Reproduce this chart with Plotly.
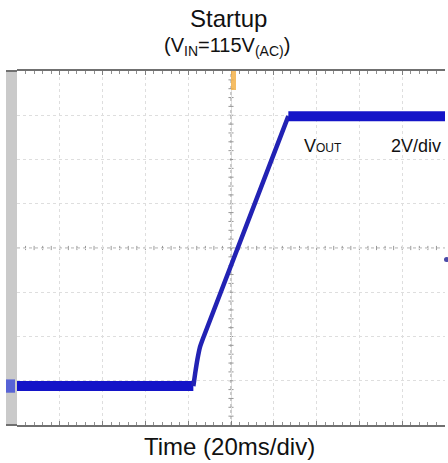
import plotly.graph_objects as go

# Data (time in ms, Vout in V)
time_ms = [0, 82.4, 83.3, 84.3, 85.5, 87.5, 126.8, 200]
vout_v = [0, 0, 0.6, 1.2, 1.76, 2.3, 12.2, 12.2]

x_range = [0, 200]        # 20 ms/div, 10 div
y_range = [-1.76, 14.24]  # 2 V/div, 8 div

W, H = 448, 463
ML, MR, MT, MB = 17, 3, 71, 38
PW = W - ML - MR
PH = H - MT - MB

def px(xp):
    return (xp - ML) / PW

def py(yp):
    return (H - MB - yp) / PH

FONT = "Arial, Liberation Sans, sans-serif"
FLAT = "#1414c8"
RAMP = "#2222b4"

fig = go.Figure()
# low flat
fig.add_trace(go.Scatter(x=time_ms[0:2], y=vout_v[0:2], mode="lines",
                         line=dict(color=FLAT, width=10), hoverinfo="skip"))
# ramp
fig.add_trace(go.Scatter(x=time_ms[1:7], y=vout_v[1:7], mode="lines",
                         line=dict(color=RAMP, width=4.5, shape="spline", smoothing=0.5),
                         hoverinfo="skip"))
# high flat
fig.add_trace(go.Scatter(x=time_ms[6:8], y=vout_v[6:8], mode="lines",
                         line=dict(color=FLAT, width=10), hoverinfo="skip"))

shapes = []
# gray strip on the left
shapes.append(dict(type="rect", xref="paper", yref="paper", x0=px(6), x1=0, y0=0, y1=1,
                   fillcolor="#cacaca", line=dict(width=0), layer="below"))
# extend borders over strip
for yv in (0, 1):
    shapes.append(dict(type="line", xref="paper", yref="paper", x0=px(6), x1=0, y0=yv, y1=yv,
                       line=dict(color="#707070", width=2)))
# center cross lines
shapes.append(dict(type="line", xref="x", yref="paper", x0=100, x1=100, y0=0, y1=1,
                   line=dict(color="#a8a8a8", width=1.2, dash="dot"), layer="below"))
shapes.append(dict(type="line", xref="paper", yref="paper", x0=0, x1=1, y0=0.5, y1=0.5,
                   line=dict(color="#a8a8a8", width=1.2, dash="dot"), layer="below"))
# minor ticks along center lines
for k in range(1, 50):
    xv = k * 4
    shapes.append(dict(type="line", xref="x", yref="paper", x0=xv, x1=xv, y0=0.5 - 0.006, y1=0.5 + 0.006,
                       line=dict(color="#989898", width=1), layer="below"))
for k in range(1, 40):
    yv = py(MT + k * PH / 40)
    shapes.append(dict(type="line", xref="paper", yref="paper", x0=0.5 - 0.006, x1=0.5 + 0.006,
                       y0=yv, y1=yv, line=dict(color="#989898", width=1), layer="below"))
# channel marker (left)
shapes.append(dict(type="rect", xref="paper", yref="y", x0=px(6), x1=px(15), y0=-0.3, y1=0.3,
                   fillcolor="#3a48d8", line=dict(width=0), opacity=0.8))
# trigger marker (top)
shapes.append(dict(type="rect", xref="paper", yref="paper", x0=px(231), x1=px(236), y0=py(90), y1=1,
                   fillcolor="#f3b24a", line=dict(width=0), opacity=0.85))
# right marker dot
shapes.append(dict(type="circle", xref="paper", yref="paper", x0=px(444), x1=px(449),
                   y0=py(262), y1=py(257), fillcolor="#4a4aa8", line=dict(width=0)))

annotations = [
    dict(text="Startup", xref="paper", yref="paper", x=px(228), y=py(18), showarrow=False,
         xanchor="center", yanchor="middle", font=dict(family=FONT, size=24, color="#111111")),
    dict(text="(V<sub>IN</sub>=115V<sub>(AC)</sub>)", xref="paper", yref="paper", x=px(227), y=py(47),
         showarrow=False, xanchor="center", yanchor="middle",
         font=dict(family=FONT, size=20, color="#111111")),
    dict(text="V<span style='font-size:12px'>OUT</span>", xref="paper", yref="paper", x=px(302), y=py(146),
         showarrow=False, xanchor="left", yanchor="middle",
         font=dict(family=FONT, size=18, color="#111111")),
    dict(text="2V/div", xref="paper", yref="paper", x=px(389), y=py(146),
         showarrow=False, xanchor="left", yanchor="middle",
         font=dict(family=FONT, size=18, color="#111111")),
    dict(text="Time (20ms/div)", xref="paper", yref="paper", x=px(229), y=py(446),
         showarrow=False, xanchor="center", yanchor="middle",
         font=dict(family=FONT, size=24, color="#111111")),
]

fig.update_layout(
    width=W, height=H,
    margin=dict(l=ML, r=MR, t=MT, b=MB),
    paper_bgcolor="white", plot_bgcolor="white",
    showlegend=False,
    shapes=shapes, annotations=annotations,
    xaxis=dict(range=x_range, dtick=20, tick0=0, showticklabels=False,
               showgrid=True, gridcolor="#dedede", griddash="dot", gridwidth=1,
               zeroline=False, showline=True, linecolor="#707070", linewidth=2, mirror="allticks",
               ticks="inside", ticklen=4, tickcolor="#808080",
               minor=dict(dtick=4, ticks="inside", ticklen=3, tickcolor="#909090", showgrid=False),
               fixedrange=True),
    yaxis=dict(range=y_range, dtick=2, tick0=0.24, showticklabels=False,
               showgrid=True, gridcolor="#dedede", griddash="dot", gridwidth=1,
               zeroline=False, showline=False, fixedrange=True),
)

fig.write_html("out.html", config={"displayModeBar": False},
               post_script="document.body.style.margin='0';document.body.style.overflow='hidden';")
